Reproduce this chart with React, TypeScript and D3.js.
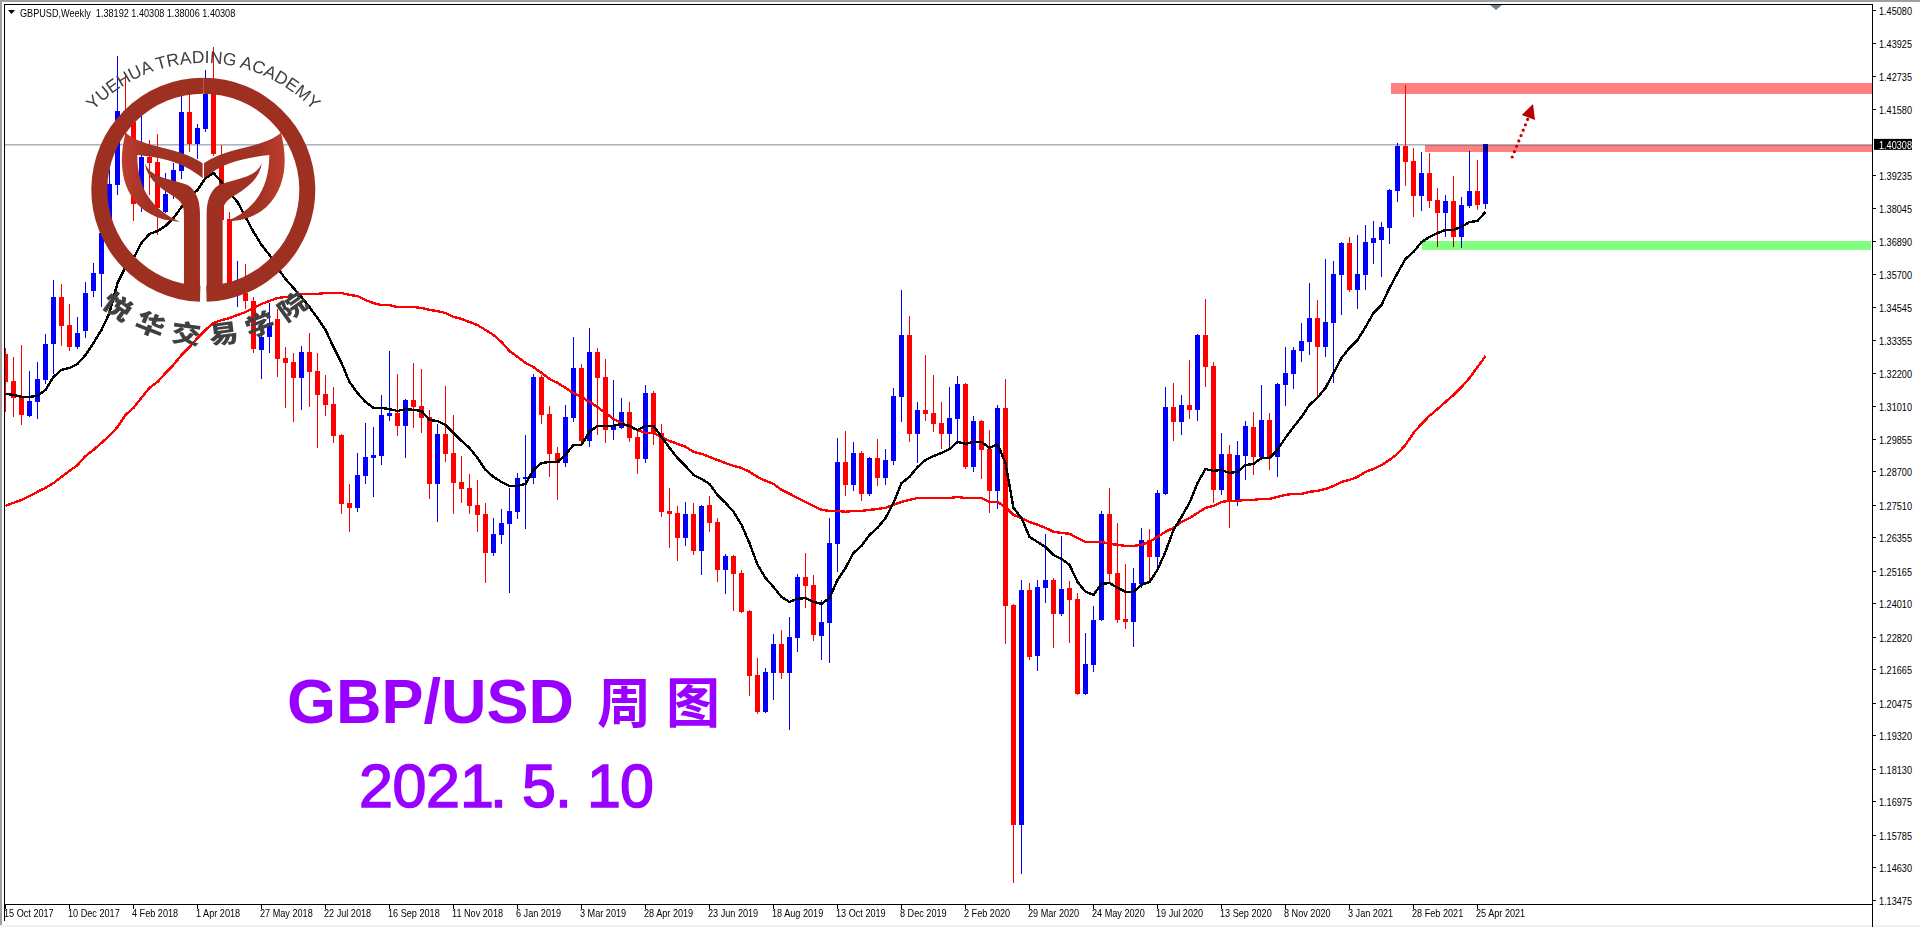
import React from "react";
import { arc, line, path as d3path, scaleLinear } from "d3";

const width = 1920;
const height = 927;

// weekly candles in 1/10000 of a price unit
const opens = [
  13287,13190,13134,13067,13116,13194,13322,13489,13389,13311,
  13368,13510,13571,13716,13886,14149,14110,13819,13986,13968,
  13791,13851,13936,14146,14032,14085,14210,13993,13766,13503,
  13503,13475,13301,13347,13411,13272,13258,13201,13294,13226,
  13145,13109,12999,12758,12740,12853,12917,12924,13067,13077,
  13031,13123,13102,13063,12825,13003,12935,12832,12811,12751,
  12719,12580,12644,12683,12726,12843,12846,13205,13073,12935,
  12899,13059,13237,12978,13294,13205,13017,13024,13081,12992,
  12914,13148,13006,12729,12722,12633,12719,12587,12751,12690,
  12520,12569,12509,12374,12147,12016,12154,12257,12154,12278,
  12495,12467,12285,12331,12612,12903,12821,12935,12790,12917,
  12846,12906,13134,13354,13003,13088,13077,13041,13003,13056,
  13180,12885,13048,12949,12800,13095,12395,11614,12449,12214,
  12456,12484,12364,12456,12416,12080,12182,12342,12719,12509,
  12346,12335,12470,12626,12566,12790,13098,13045,13106,13088,
  13354,13244,12804,12932,12765,12924,13027,12921,13052,12921,
  13177,13216,13297,13329,13414,13311,13396,13567,13681,13514,
  13567,13681,13691,13734,13865,14025,13972,13847,13929,13833,
  13787,13830,13702,13812,13865,13819,
];
const highs = [
  13308,13276,13318,13226,13258,13358,13549,13535,13464,13418,
  13542,13609,13744,13943,14345,14281,14135,14135,14046,14068,
  13929,13964,14202,14210,14103,14295,14376,14029,13791,13617,
  13606,13489,13407,13467,13446,13311,13290,13315,13361,13290,
  13212,13169,13003,12825,12935,13041,13027,13141,13297,13216,
  13127,13255,13233,13088,13038,13173,13070,12924,12860,12839,
  12758,12704,12736,12811,12864,12999,13216,13212,13102,12957,
  13106,13347,13251,13379,13308,13269,13194,13131,13116,13017,
  13177,13155,13038,12811,12747,12761,12758,12751,12782,12704,
  12577,12573,12520,12378,12207,12172,12293,12307,12353,12506,
  12580,12502,12413,12704,12989,13013,12974,12942,12921,12985,
  12949,13166,13514,13422,13116,13283,13212,13116,13169,13208,
  13184,13067,13052,13017,13106,13198,12399,12484,12473,12484,
  12648,12491,12641,12480,12438,12296,12392,12729,12811,12687,
  12541,12527,12669,12665,12804,13169,13184,13141,13265,13358,
  13482,13258,13006,12964,12978,13048,13081,13177,13077,13184,
  13311,13311,13396,13539,13478,13624,13617,13684,13702,13709,
  13744,13759,13755,13873,14036,14241,14018,14004,14000,13876,
  13851,13918,13844,14007,13975,14031,
];
const lows = [
  13081,13063,13034,13063,13056,13180,13216,13315,13297,13304,
  13343,13489,13453,13691,13851,14064,13759,13791,13851,13709,
  13787,13837,13908,14004,13979,14075,13990,13758,13496,13453,
  13446,13290,13198,13290,13205,13095,13045,13088,13098,12953,
  13067,12971,12719,12655,12726,12825,12779,12892,13048,12996,
  12917,13024,13006,12772,12690,12903,12719,12758,12719,12655,
  12474,12569,12612,12438,12701,12665,12825,13038,12850,12768,
  12885,13045,12974,12957,12999,12971,12981,13020,12974,12860,
  12899,12964,12708,12598,12552,12605,12573,12502,12655,12477,
  12435,12374,12367,12072,12009,12012,12058,12133,11951,12228,
  12385,12268,12200,12190,12513,12782,12800,12765,12782,12818,
  12821,12892,13045,12974,12899,13048,13010,12949,12957,12971,
  12878,12868,12843,12722,12736,12257,11408,11440,12200,12161,
  12403,12243,12356,12261,12076,12076,12158,12339,12473,12331,
  12310,12246,12456,12484,12520,12786,12978,12999,13056,13048,
  13169,12758,12786,12669,12747,12839,12857,12917,12875,12850,
  13102,13162,13258,13283,13131,13276,13184,13425,13507,13446,
  13514,13606,13560,13677,13826,13883,13773,13794,13805,13667,
  13702,13667,13663,13805,13798,13801,
];
const closes = [
  13187,13131,13070,13119,13198,13322,13489,13386,13311,13361,
  13503,13574,13716,13890,14149,14110,13819,13986,13964,13805,
  13855,13940,14146,14032,14089,14210,13997,13762,13510,13549,
  13475,13304,13347,13396,13269,13255,13201,13294,13223,13141,
  13106,12996,12754,12740,12857,12921,12928,13070,13077,13031,
  13123,13098,13059,12825,13003,12932,12828,12807,12747,12715,
  12580,12648,12687,12729,12846,12850,13205,13070,12932,12899,
  13063,13237,12978,13294,13201,13017,13034,13081,12989,12914,
  13148,13006,12726,12719,12633,12719,12587,12747,12687,12520,
  12569,12506,12371,12143,12016,12158,12257,12154,12282,12495,
  12463,12289,12335,12615,12903,12821,12935,12790,12917,12846,
  12910,13137,13354,13003,13088,13073,13038,13003,13059,13180,
  12885,13048,12946,12800,13095,12392,11614,12449,12211,12459,
  12484,12364,12452,12413,12080,12186,12342,12719,12506,12342,
  12335,12473,12626,12566,12793,13098,13045,13106,13088,13354,
  13240,12804,12932,12765,12928,13031,12921,13052,12921,13180,
  13219,13301,13333,13414,13311,13400,13571,13681,13514,13571,
  13684,13699,13738,13869,14025,13968,13847,13929,13830,13787,
  13830,13702,13816,13865,13816,14031,
];

// fast moving average (black)
const maFast = [
  13145,13141,13134,13134,13138,13159,13205,13230,13237,13251,
  13283,13325,13372,13432,13539,13595,13627,13681,13713,13723,
  13741,13769,13808,13844,13869,13911,13929,13897,13858,13826,
  13773,13720,13674,13638,13592,13553,13521,13489,13453,13414,
  13372,13311,13255,13187,13148,13116,13095,13095,13091,13084,
  13091,13088,13084,13052,13048,13034,13006,12978,12953,12917,
  12875,12850,12832,12818,12818,12825,12875,12899,12903,12903,
  12928,12964,12964,13010,13031,13031,13031,13038,13031,13017,
  13031,13031,12992,12953,12917,12889,12857,12843,12825,12786,
  12758,12726,12680,12615,12538,12491,12459,12424,12406,12417,
  12420,12406,12399,12420,12484,12527,12580,12605,12644,12669,
  12704,12758,12828,12850,12885,12910,12924,12935,12949,12974,
  12967,12974,12974,12953,12967,12899,12740,12704,12637,12619,
  12601,12573,12559,12538,12477,12442,12431,12470,12473,12456,
  12442,12442,12467,12477,12520,12584,12662,12708,12758,12828,
  12878,12871,12875,12864,12868,12892,12896,12917,12917,12946,
  12989,13027,13063,13106,13131,13166,13219,13272,13308,13336,
  13382,13432,13460,13521,13574,13624,13649,13684,13702,13716,
  13727,13727,13738,13755,13759,13791,
];
// slow moving average (red)
const maSlow = [
  12747,12758,12768,12782,12797,12811,12828,12850,12871,12892,
  12924,12946,12971,12996,13027,13070,13095,13131,13166,13187,
  13219,13248,13283,13311,13343,13372,13396,13407,13414,13425,
  13435,13450,13464,13475,13485,13489,13492,13500,13500,13500,
  13503,13503,13503,13496,13492,13478,13467,13460,13460,13453,
  13453,13453,13450,13443,13439,13432,13418,13411,13400,13389,
  13372,13354,13329,13297,13276,13255,13240,13219,13198,13184,
  13166,13148,13134,13116,13098,13077,13056,13041,13027,13017,
  13006,13006,12992,12978,12967,12957,12939,12932,12921,12910,
  12899,12889,12882,12868,12850,12836,12825,12804,12790,12775,
  12761,12747,12733,12729,12729,12726,12729,12729,12733,12736,
  12740,12751,12761,12768,12775,12775,12775,12775,12775,12779,
  12775,12775,12775,12761,12761,12743,12715,12704,12690,12680,
  12669,12655,12651,12648,12633,12619,12619,12619,12612,12609,
  12605,12605,12609,12619,12637,12655,12669,12690,12704,12722,
  12740,12747,12761,12765,12765,12768,12768,12772,12772,12779,
  12786,12790,12790,12797,12800,12807,12818,12832,12839,12850,
  12868,12878,12892,12910,12932,12964,13006,13038,13067,13091,
  13116,13141,13169,13201,13240,13279,
];

const priceTicks = [
  1.4508,1.43925,1.42735,1.4158,1.39235,1.38045,1.3689,1.357,1.34545,1.33355,
  1.322,1.3101,1.29855,1.287,1.2751,1.26355,1.25165,1.2401,1.2282,1.21665,
  1.20475,1.1932,1.1813,1.16975,1.15785,1.1463,1.13475,
];
const dateTicks = [
  "15 Oct 2017","10 Dec 2017","4 Feb 2018","1 Apr 2018","27 May 2018","22 Jul 2018",
  "16 Sep 2018","11 Nov 2018","6 Jan 2019","3 Mar 2019","28 Apr 2019","23 Jun 2019",
  "18 Aug 2019","13 Oct 2019","8 Dec 2019","2 Feb 2020","29 Mar 2020","24 May 2020",
  "19 Jul 2020","13 Sep 2020","8 Nov 2020","3 Jan 2021","28 Feb 2021","25 Apr 2021",
];
const barsPerDateTick = 8;
const lastPrice = 1.40308;

// hand drawn zones: from which bar, price top and bottom
const zoneStarts = [173.2, 177.5, 177.1];
const zoneTops = [1.4249, 1.4029, 1.3688];
const zoneBottoms = [1.421, 1.4004, 1.3656];
const zoneColors = ["#ff8080", "#ff8080", "#80ff80"];

const academyChars = ["悦", "华", "交", "易", "学", "院"];

const plotLeft = 4;
const plotRight = 1872;
const plotTop = 4;
const plotBottom = 904;

const x = scaleLinear().domain([0, 185]).range([5, 1485]);
const y = scaleLinear().domain([1.45435, 1.13475]).range([0, 900]);
const py = (v: number) => Math.round(y(v / 10000));

const maLine = line<number>()
  .x((_, i) => x(i) + 0.5)
  .y((d) => y(d / 10000));

const uiFont = '"Liberation Sans",Arial,sans-serif';
const purple = "#9900ff";

// MT4 labels are narrower than Liberation Sans, squeeze them
const UiText = ({ tx, ty, fill = "#000", children }: any) => (
  <text
    transform={`translate(${tx},${ty}) scale(0.83,1)`}
    fontFamily={uiFont}
    fontSize={11}
    fill={fill}
    xmlSpace="preserve"
  >
    {children}
  </text>
);

// logo half, drawn in 3x coordinates around the ring centre and mirrored for the left side
const ringHalf =
  arc()({ innerRadius: 288, outerRadius: 336, startAngle: 0, endAngle: Math.PI - 0.03 }) || "";

const LogoHalf = ({ flip }: { flip: boolean }) => (
  <g transform={flip ? "translate(1220,0) scale(-1,1)" : undefined} fill="url(#logoGrad)">
    <path d={ringHalf} transform="translate(610,569)" />
    <path d="M612,490 C680,440 790,445 843,398 C862,470 862,560 800,620 C760,655 720,662 680,665 C760,630 808,570 808,465 C740,472 670,485 612,535 Z" />
    <path d="M785,490 C780,540 730,570 695,592 C675,605 668,620 668,640 L668,895 L650,902 Q620,890 620,865 L620,640 C620,590 640,560 665,552 C720,535 770,530 785,490 Z" />
  </g>
);

const topArc = d3path();
topArc.arc(203.3, 214, 151, (-Math.PI * 150) / 180, (-Math.PI * 30) / 180);

export default function App() {
  return (
    <svg
      width={width}
      height={height}
      style={{ position: "absolute", left: 0, top: 0, display: "block", background: "#fff" }}
    >
      <defs>
        <clipPath id="plot">
          <rect x={plotLeft + 1} y={plotTop + 1} width={plotRight - plotLeft - 1} height={plotBottom - plotTop - 1} />
        </clipPath>
        <linearGradient id="logoGrad" gradientUnits="userSpaceOnUse" x1={610} x2={946} y1={0} y2={0}>
          <stop offset="0" stopColor="#9e3022" />
          <stop offset="0.5" stopColor="#a23324" />
          <stop offset="1" stopColor="#e2493b" />
        </linearGradient>
        <path id="academyArc" d={topArc.toString()} />
      </defs>

      {/* window chrome */}
      <rect x={0} y={0} width={width} height={2} fill="#a0a0a0" />
      <rect x={0} y={0} width={2} height={height} fill="#a0a0a0" />
      <rect x={0} y={height - 2} width={width} height={2} fill="#f0f0f0" />

      <g clipPath="url(#plot)">
        <line x1={plotLeft} x2={plotRight} y1={y(lastPrice) + 0.5} y2={y(lastPrice) + 0.5} stroke="#778899" />

        {/* candles */}
        <g shapeRendering="crispEdges">
          {opens.map((o, i) => {
            const c = closes[i];
            const color = c >= o ? "#0000ff" : "#ff0000";
            const top = py(Math.max(o, c));
            const bottom = py(Math.min(o, c));
            return (
              <g key={i} fill={color}>
                <rect x={x(i)} y={py(highs[i])} width={1} height={py(lows[i]) - py(highs[i])} />
                <rect x={x(i) - 2} y={top} width={5} height={Math.max(bottom - top, 2)} />
              </g>
            );
          })}
        </g>

        <path d={maLine(maSlow) || ""} fill="none" stroke="#ff0000" strokeWidth={2.4} shapeRendering="crispEdges" />
        <path d={maLine(maFast) || ""} fill="none" stroke="#000000" strokeWidth={2.4} shapeRendering="crispEdges" />

        {/* zones */}
        {zoneStarts.map((s, i) => (
          <rect
            key={i}
            x={x(s)}
            y={y(zoneTops[i])}
            width={plotRight - x(s) - (i === 2 ? 1 : 0)}
            height={y(zoneBottoms[i]) - y(zoneTops[i])}
            fill={zoneColors[i]}
            shapeRendering="crispEdges"
            style={{ mixBlendMode: "multiply" }}
          />
        ))}

        {/* arrow */}
        <line
          x1={x(188.4)}
          y1={y(1.3986)}
          x2={x(190.4)}
          y2={y(1.41245)}
          stroke="#c00000"
          strokeWidth={3.2}
          strokeLinecap="round"
          strokeDasharray="0 5.8"
        />
        <polygon
          points={`${x(191)},${y(1.4174)} ${x(189.6)},${y(1.41351)} ${x(191.25)},${y(1.41174)}`}
          fill="#b80000"
        />

        {/* shift marker */}
        <polygon points="1490,5 1502,5 1496,10" fill="#708090" />
      </g>

      {/* frame */}
      <g stroke="#000" shapeRendering="crispEdges" fill="none">
        <path d={`M${plotLeft + 0.5},${height - 6} V${plotTop + 0.5} H${plotRight + 0.5} V${height}`} />
        <path d={`M${plotLeft},${plotBottom + 0.5} H${plotRight + 0.5}`} />
      </g>

      {/* header */}
      <polygon points="8,10 15,10 11.5,14" fill="#000" />
      <UiText tx={20} ty={16.5}>GBPUSD,Weekly  1.38192 1.40308 1.38006 1.40308</UiText>

      {/* price axis */}
      {priceTicks.map((p) => (
        <g key={p}>
          <line x1={plotRight} x2={plotRight + 4} y1={Math.round(y(p)) + 0.5} y2={Math.round(y(p)) + 0.5} stroke="#000" shapeRendering="crispEdges" />
          <UiText tx={plotRight + 7} ty={Math.round(y(p)) + 4.5}>{p.toFixed(5)}</UiText>
        </g>
      ))}
      <rect x={plotRight + 2} y={y(lastPrice) - 5.5} width={38} height={11} fill="#000" />
      <UiText tx={plotRight + 7} ty={y(lastPrice) + 4.5} fill="#fff">{lastPrice.toFixed(5)}</UiText>

      {/* time axis */}
      {dateTicks.map((d, i) => {
        const tx = x(i * barsPerDateTick);
        return (
          <g key={d}>
            <line x1={tx + 0.5} x2={tx + 0.5} y1={plotBottom} y2={plotBottom + 5} stroke="#000" shapeRendering="crispEdges" />
            <UiText tx={tx - 1} ty={plotBottom + 13}>{d}</UiText>
          </g>
        );
      })}

      {/* watermark logo */}
      <g transform="translate(203.3,189.7) scale(0.33333) translate(-610,-569)">
        <LogoHalf flip={false} />
        <LogoHalf flip={true} />
      </g>
      <text fontFamily='"Liberation Sans",Arial,sans-serif' fontSize={17.5} fill="#404040" textAnchor="middle">
        <textPath href="#academyArc" startOffset="50%">
          YUEHUA TRADING ACADEMY
        </textPath>
      </text>
      {academyChars.map((ch, i) => {
        const deg = (2.5 - i) * 14.3;
        return (
          <text
            key={ch}
            transform={`translate(205,185) rotate(${deg}) translate(0,148) scale(1.05,0.9)`}
            fontFamily='"Noto Sans CJK SC",sans-serif'
            fontWeight={900}
            fontSize={28}
            fill="#404040"
            textAnchor="middle"
            dominantBaseline="central"
          >
            {ch}
          </text>
        );
      })}

      {/* captions */}
      <text x={287} y={723} fontFamily='"Liberation Sans",Arial,sans-serif' fontWeight={700} fontSize={63} fill={purple}>
        GBP/USD
      </text>
      <text
        x={597}
        y={723}
        fontFamily='"Noto Sans CJK SC",sans-serif'
        fontWeight={700}
        fontSize={54}
        letterSpacing={15}
        fill={purple}
      >
        周图
      </text>
      <text
        x="359 392.5 426 460 490 522 555 587 620"
        y={807}
        fontFamily='"Liberation Sans",Arial,sans-serif'
        fontSize={61}
        stroke={purple}
        strokeWidth={1.5}
        fill={purple}
      >
        2021.5.10
      </text>
    </svg>
  );
}
